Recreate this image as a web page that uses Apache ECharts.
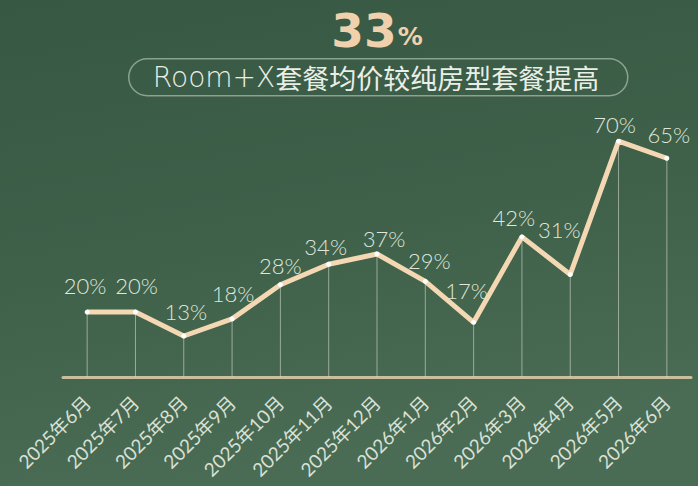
<!DOCTYPE html>
<html>
<head>
<meta charset="utf-8">
<script src="https://cdn.jsdelivr.net/npm/echarts@6/dist/echarts.min.js"></script>
<style>
html,body{margin:0;padding:0;background:#3d5e48;}
#chart{width:698px;height:486px;}
</style>
</head>
<body>
<div id="chart"></div>
<script>
const categories = ['2025年6月','2025年7月','2025年8月','2025年9月','2025年10月','2025年11月','2025年12月','2026年1月','2026年2月','2026年3月','2026年4月','2026年5月','2026年6月'];
const values = [20,20,13,18,28,34,37,29,17,42,31,70,65];
const headlineValue = '33';
const headlineUnit = '%';
const subtitleLatin = 'Room+X';
const subtitleCJK = '套餐均价较纯房型套餐提高';

// label style offsets (styling only)
const labelOffsets = [[-2,-27],[1,-27],[2,-24],[1,-25],[0,-19],[-3,-18],[7,-15],[4,-21],[-7,-32],[-8,-19],[-11,-45],[-4,-17],[2,-24]];

const chart = echarts.init(document.getElementById('chart'), null, {renderer:'svg'});
const latin = 'Lato, "Noto Sans", "Noto Sans CJK SC", sans-serif';

chart.setOption({
  backgroundColor: {
    type:'linear', x:0, y:0, x2:0.25, y2:1,
    colorStops:[{offset:0,color:'#375843'},{offset:0.55,color:'#3f6049'},{offset:1,color:'#4a6b54'}]
  },
  graphic: [
    {
      type:'text', x:377, y:30, silent:true,
      style:{
        text: '{a|' + headlineValue + '}{b|' + headlineUnit + '}',
        align:'center', verticalAlign:'middle',
        rich:{
          a:{fill:'#efd2ad', fontSize:47, fontWeight:'bold', fontFamily:'"DejaVu Sans", Lato, sans-serif', lineHeight:40},
          b:{fill:'#efd2ad', fontSize:25, fontWeight:'bold', fontFamily:'"DejaVu Sans", Lato, sans-serif', lineHeight:40, padding:[12,0,0,1]}
        }
      }
    },
    {
      type:'rect', left:128, top:58, silent:true,
      shape:{width:499, height:37, r:18.5},
      style:{fill:'rgba(0,0,0,0)', stroke:'rgba(205,220,205,0.55)', lineWidth:1.5}
    },
    {
      type:'text', x:376, y:77, silent:true,
      style:{
        text: '{l|' + subtitleLatin + '}{c|' + subtitleCJK + '}',
        align:'center', verticalAlign:'middle',
        rich:{
          l:{fill:'#e9eee7', fontSize:28, fontWeight:300, fontFamily:'"DejaVu Sans", Lato, sans-serif', lineHeight:32},
          c:{fill:'#e9eee7', fontSize:27, fontFamily:'"Noto Sans CJK SC", sans-serif', lineHeight:32}
        }
      }
    }
  ],
  grid: {left:63, right:7, top:107, bottom:109, containLabel:false},
  xAxis: {
    type:'category',
    data: categories,
    boundaryGap: true,
    axisLine: {lineStyle:{color:'#c9bf9c', width:3}},
    axisTick: {show:false},
    axisLabel: {rotate:45, interval:0, color:'#d9e1d6', fontSize:19, margin:22, fontFamily:latin}
  },
  yAxis: {
    type:'value', min:1, max:80, show:false, splitLine:{show:false}
  },
  series: [
    {
      type:'bar',
      data: values,
      barWidth: 1,
      silent: true,
      itemStyle: {color:'rgba(225,230,220,0.55)'},
      z: 1
    },
    {
      type:'line',
      data: values.map((v,i)=>({value:v, label:{offset:labelOffsets[i]}})),
      symbol:'circle',
      symbolSize:5,
      lineStyle:{color:'#f3d8b3', width:5},
      itemStyle:{color:'#ffffff', borderWidth:0},
      label:{
        show:true, position:'inside', formatter:'{c}%',
        color:'#dfe6dc', fontSize:22, fontWeight:300, fontFamily:latin,
        align:'center', verticalAlign:'middle',
        textBorderWidth:0, textBorderColor:'transparent'
      },
      z: 3
    }
  ]
});
</script>
</body>
</html>
